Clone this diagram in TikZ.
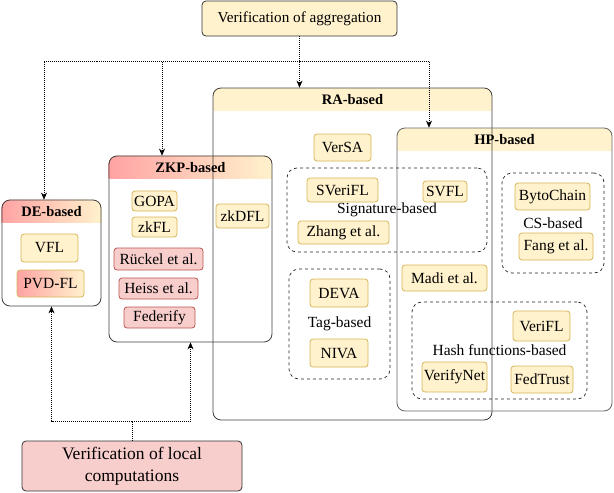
\documentclass[tikz,border=0pt]{standalone}
\usepackage{fontspec}
\setmainfont{Liberation Serif}
\usepackage{tikz}
\usetikzlibrary{arrows.meta,positioning,backgrounds}
\definecolor{ylwFill}{HTML}{FFF2CC}
\definecolor{ylwEdge}{HTML}{D6B656}
\definecolor{pinkFill}{HTML}{F8CECC}
\definecolor{pinkEdge}{HTML}{B85450}
\definecolor{grdRed}{HTML}{FFA3A3}

\begin{document}
\begin{tikzpicture}[
  x=1pt, y=-1pt,
  font=\fontsize{15.5}{18}\selectfont,
  paper/.style={draw=ylwEdge, fill=ylwFill, rounded corners=3pt,
                inner sep=0pt, line width=0.8pt},
  redpaper/.style={paper, draw=pinkEdge, fill=pinkFill},
  gradpaper/.style={paper, left color=grdRed, right color=ylwFill},
  topic/.style={draw=black!80, rounded corners=4pt, line width=0.8pt,
                inner sep=0pt, align=center},
  family/.style={draw=black!75, rounded corners=8pt, line width=0.8pt,
                 inner sep=0pt},
  group/.style={draw=black!85, dashed, rounded corners=10pt, line width=0.7pt,
                inner sep=0pt},
  title/.style={font=\fontsize{14.5}{18}\selectfont\bfseries},
  hdr/.style={fill=ylwFill},
  hdrgrad/.style={left color=grdRed, right color=ylwFill},
  link/.style={line width=0.6pt, dash pattern=on 1pt off 1pt,
               -{Stealth[length=7pt,width=6pt]}},
]
  \useasboundingbox (0,0) rectangle (614,493);

  % the two kinds of verification
  \node[topic, fill=ylwFill, minimum width=195, minimum height=35,
        font=\fontsize{15.2}{18}\selectfont]
    (aggr) at (299.5,18.5) {Verification of aggregation};
  \node[topic, fill=pinkFill, minimum width=220, minimum height=50,
        font=\fontsize{17.5}{21.5}\selectfont]
    (local) at (132,466) {Verification of local\\computations};

  % families of approaches
  \node[family, minimum width=279, minimum height=332] (ra) at (352.5,254) {};
  \node[family, draw=black!60, minimum width=215, minimum height=283] (hp) at (504.5,269.5) {};
  \node[family, minimum width=163, minimum height=186] (zkp) at (190.5,249) {};
  \node[family, minimum width=99, minimum height=106] (de) at (51.5,253) {};

  \begin{scope}[on background layer]
    \foreach \fam/\look in {ra/hdr, hp/hdr, zkp/hdrgrad, de/hdrgrad} {
      \begin{scope}
        \clip[rounded corners=8pt] (\fam.south west) rectangle (\fam.north east);
        \path[\look] (\fam.north west) rectangle ([yshift=-23pt]\fam.north east);
      \end{scope}
    }
  \end{scope}

  \node[title] (ratitle) at ([yshift=-11.5pt]ra.north) {RA-based};
  \node[title] (hptitle) at ([yshift=-11.5pt]hp.north) {HP-based};
  \node[title] (zkptitle) at ([yshift=-11.5pt]zkp.north) {ZKP-based};
  \node[title] (detitle) at ([yshift=-11.5pt]de.north) {DE-based};

  % sub-groups
  \node[group, minimum width=200, minimum height=84] (sigbox) at (387,210) {Signature-based};
  \node[group, minimum width=101, minimum height=110] (tagbox) at (339.5,324) {Tag-based};
  \node[group, minimum width=102, minimum height=100] (csbox) at (553,223) {CS-based};
  \node[group, minimum width=175, minimum height=97] (hashbox) at (499.5,350.5) {Hash functions-based};

  % DE-based
  \node[paper, minimum width=57, minimum height=28] (vfl) at (49.5,248) {VFL};
  \node[gradpaper, minimum width=67, minimum height=27] (pvdfl) at (50.5,283.5) {PVD-FL};

  % ZKP-based
  \node[paper, minimum width=45, minimum height=20] (gopa) at (154.5,201) {GOPA};
  \node[paper, minimum width=45, minimum height=20] (zkfl) at (154.5,227) {zkFL};
  \node[redpaper, minimum width=89, minimum height=22] (ruckel) at (158.5,259) {Rückel et al.};
  \node[redpaper, minimum width=79, minimum height=21] (heiss) at (158.5,288.5) {Heiss et al.};
  \node[redpaper, minimum width=71, minimum height=21] (federify) at (159.5,317.5) {Federify};
  \node[paper, minimum width=53, minimum height=24] (zkdfl) at (242.5,216) {zkDFL};

  % RA-based
  \node[paper, minimum width=57, minimum height=27] (versa) at (342.5,147.5) {VerSA};
  \node[paper, minimum width=71, minimum height=24] (sverifl) at (342.5,190) {SVeriFL};
  \node[paper, minimum width=44, minimum height=21] (svfl) at (445,191.5) {SVFL};
  \node[paper, minimum width=91, minimum height=23] (zhang) at (343.5,232.5) {Zhang et al.};
  \node[paper, minimum width=58, minimum height=28] (deva) at (339,293) {DEVA};
  \node[paper, minimum width=58, minimum height=28] (niva) at (339,353) {NIVA};
  \node[paper, minimum width=85, minimum height=26] (madi) at (444.5,278) {Madi et al.};

  % HP-based
  \node[paper, minimum width=75, minimum height=27] (bytochain) at (552.5,196.5) {BytoChain};
  \node[paper, minimum width=74, minimum height=27] (fang) at (556,246.5) {Fang et al.};
  \node[paper, minimum width=57, minimum height=30] (verifl) at (541.5,326) {VeriFL};
  \node[paper, minimum width=65, minimum height=30] (verifynet) at (454.5,377) {VerifyNet};
  \node[paper, minimum width=62, minimum height=27] (fedtrust) at (542,379.5) {FedTrust};

  % connectors
  \coordinate (topbus) at (aggr.south |- 0,61);
  \coordinate (botbus) at (local.north |- 0,421);
  \draw[link] (aggr.south) -- (aggr.south |- ra.north);
  \draw[link] (topbus) -| ([xshift=-7.5pt]de.north);
  \draw[link] (topbus) -| ([xshift=-28.5pt]zkp.north);
  \draw[link] (topbus) -| ([xshift=-75.5pt]hp.north);
  \draw[link] (local.north) -- (botbus) -| (de.south);
  \draw[link] (botbus) -| (zkp.south);
\end{tikzpicture}
\end{document}
